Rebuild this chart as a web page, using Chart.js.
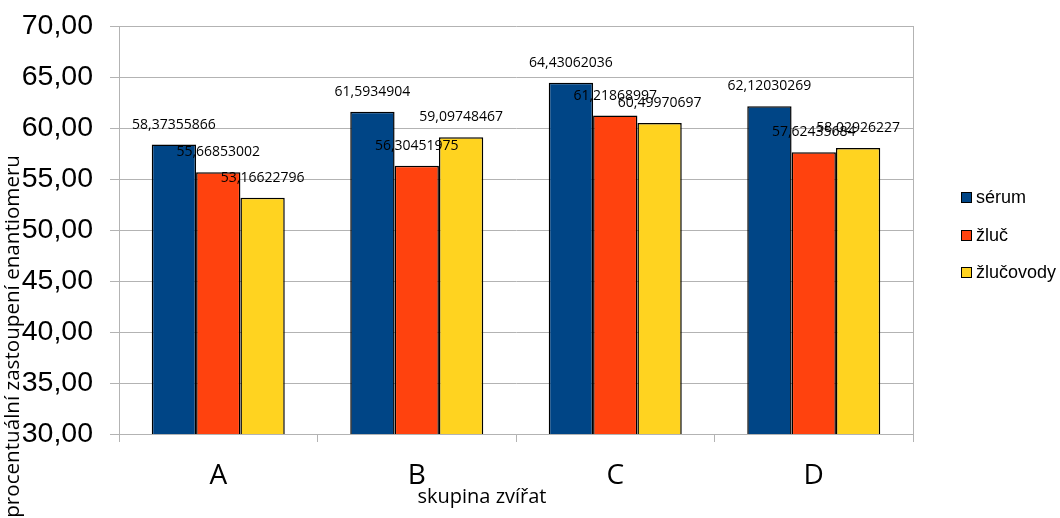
<!DOCTYPE html>
<html>
<head>
<meta charset="utf-8">
<script src="https://cdn.jsdelivr.net/npm/chart.js@4.4.1/dist/chart.umd.min.js"></script>
<style>
  html, body { margin: 0; padding: 0; background: #fff; }
  canvas { display: block; }
</style>
</head>
<body>
<canvas id="c" width="1060" height="518"></canvas>
<script>
// Groups of animals and the share of the enantiomer per sample type
const categories = ['A', 'B', 'C', 'D'];
const serum      = [58.37355866, 61.5934904, 64.43062036, 62.12030269];
const zluc       = [55.66853002, 56.30451975, 61.21868997, 57.62435684];
const zlucovody  = [53.16622796, 59.09748467, 60.49970697, 58.02926227];
const seriesNames = ['sérum', 'žluč', 'žlučovody'];
const seriesColors = ['#004586', '#ff420e', '#ffd320'];
const yMin = 30, yMax = 70, yStep = 5;
const xTitle = 'skupina zvířat';
const yTitle = 'procentuální zastoupení enantiomeru';

const GRID = '#b3b3b3';

const fmtComma = v => String(v).replace('.', ',');

// Value labels above each bar
const valueLabels = {
  id: 'valueLabels',
  afterDatasetsDraw(chart) {
    const ctx = chart.ctx;
    ctx.save();
    ctx.font = '14px "Open Sans"';
    ctx.fillStyle = '#000';
    ctx.textAlign = 'center';
    ctx.textBaseline = 'middle';
    chart.data.datasets.forEach((ds, i) => {
      chart.getDatasetMeta(i).data.forEach((bar, j) => {
        ctx.fillText(fmtComma(ds.data[j]), bar.x, bar.y - 20);
      });
    });
    ctx.restore();
  }
};

// Frame line, axis titles and legend
const decorations = {
  id: 'decorations',
  afterDraw(chart) {
    const ctx = chart.ctx;
    const a = chart.chartArea;
    ctx.save();
    ctx.strokeStyle = GRID;
    ctx.lineWidth = 1;
    ctx.beginPath();
    ctx.moveTo(Math.round(a.right) + 0.5, a.top);
    ctx.lineTo(Math.round(a.right) + 0.5, a.bottom);
    ctx.stroke();

    // x axis title
    ctx.fillStyle = '#000';
    ctx.font = '20px "Open Sans"';
    ctx.textAlign = 'center';
    ctx.textBaseline = 'alphabetic';
    ctx.fillText(xTitle, 482, 503);

    // y axis title (rotated)
    ctx.save();
    ctx.translate(19, 155);
    ctx.rotate(-Math.PI / 2);
    ctx.textAlign = 'right';
    ctx.textBaseline = 'alphabetic';
    ctx.font = '20.6px "Open Sans"';
    ctx.fillText(yTitle, 0, 0);
    ctx.restore();

    // legend
    const ly = [197, 235, 272];
    ctx.font = '18px "Liberation Sans"';
    ctx.textAlign = 'left';
    ctx.textBaseline = 'middle';
    seriesNames.forEach((name, i) => {
      ctx.fillStyle = seriesColors[i];
      ctx.fillRect(961, ly[i] - 5, 10, 10);
      ctx.strokeStyle = '#000';
      ctx.lineWidth = 1;
      ctx.strokeRect(961.5, ly[i] - 4.5, 10, 10);
      ctx.fillStyle = '#000';
      ctx.fillText(name, 976, ly[i] + 1);
    });
    ctx.restore();
  }
};

const seriesData = [serum, zluc, zlucovody];

new Chart(document.getElementById('c'), {
  type: 'bar',
  data: {
    labels: categories,
    datasets: seriesData.map((d, i) => ({
      label: seriesNames[i],
      data: d,
      backgroundColor: seriesColors[i],
      borderColor: '#000',
      borderWidth: 1.5,
      categoryPercentage: 0.67,
      barPercentage: 1
    }))
  },
  options: {
    responsive: false,
    animation: false,
    devicePixelRatio: 1,
    layout: { padding: { top: 26, right: 147, bottom: 0, left: 0 } },
    plugins: {
      legend: { display: false },
      tooltip: { enabled: false }
    },
    scales: {
      x: {
        offset: true,
        grid: { display: true, drawOnChartArea: false, drawTicks: true, tickLength: 8, color: GRID, offset: true },
        border: { color: GRID },
        ticks: { font: { family: 'Open Sans', size: 28 }, color: '#000', padding: 17 },
        afterFit(s) { s.height = 84; s.paddingLeft = 0; s.paddingRight = 0; }
      },
      y: {
        min: yMin,
        max: yMax,
        grid: { color: GRID, tickLength: 9 },
        border: { color: GRID },
        ticks: {
          stepSize: yStep,
          font: { family: 'Liberation Sans', size: 28.5 },
          color: '#000',
          padding: 17,
          callback: v => v.toFixed(2).replace('.', ',')
        },
        afterFit(s) { s.width = 119; s.paddingTop = 0; s.paddingBottom = 0; }
      }
    }
  },
  plugins: [valueLabels, decorations]
});
</script>
</body>
</html>
